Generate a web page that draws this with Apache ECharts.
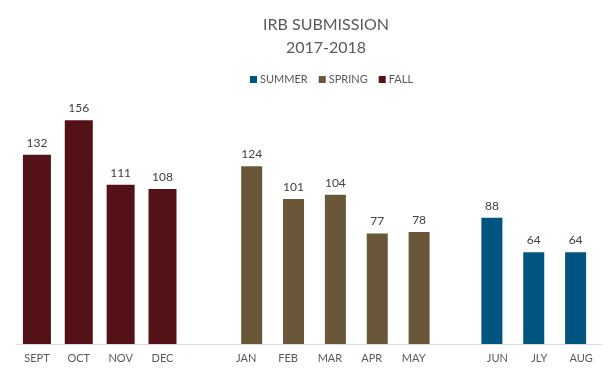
<!DOCTYPE html>
<html>
<head>
<meta charset="utf-8">
<script src="https://cdn.jsdelivr.net/npm/echarts@6/dist/echarts.min.js"></script>
<style>html,body{margin:0;padding:0;background:#fff}#c{width:611px;height:383px}</style>
</head>
<body>
<div id="c"></div>
<script>
var categories = ['SEPT','OCT','NOV','DEC','','JAN','FEB','MAR','APR','MAY','','JUN','JLY','AUG'];
var summerValues = [null,null,null,null,null,null,null,null,null,null,null,88,64,64];
var springValues = [null,null,null,null,null,124,101,104,77,78,null,null,null,null];
var fallValues = [132,156,111,108,null,null,null,null,null,null,null,null,null,null];
var titleLines = ['IRB SUBMISSION', '2017-2018'];

var FONT = 'Lato, "Open Sans", sans-serif';
var chart = echarts.init(document.getElementById('c'), null, {renderer:'canvas'});
var labelCfg = {show:true, position:'top', distance:6, color:'#404040', fontSize:12, fontFamily:FONT};
chart.setOption({
  animation:false,
  graphic:[{type:'text', x:326, y:13, style:{text:titleLines.join('\n'), fill:'#595959', font:'16px ' + FONT, align:'center', lineHeight:23}}],
  legend:{top:69, left:245, icon:'rect', itemWidth:7, itemHeight:7, itemGap:11,
    textStyle:{color:'#595959', fontSize:11, fontFamily:FONT, padding:[0,0,0,-2]},
    data:['SUMMER','SPRING','FALL']},
  grid:{left:16, right:9, bottom:39, top:85.8, containLabel:false},
  xAxis:[
    {type:'category', data:categories, axisLine:{lineStyle:{color:'#d9d9d9'}}, axisTick:{show:false},
     axisLabel:{color:'#595959', fontSize:11, fontFamily:FONT, margin:9, interval:0}},
    {type:'category', data:categories, show:false, position:'bottom'}
  ],
  yAxis:{type:'value', min:0, max:180, show:false, splitLine:{show:false}},
  series:[
    {name:'SUMMER', type:'bar', xAxisIndex:0, data:summerValues, barWidth:21, barGap:'-48%', itemStyle:{color:'#005480'}, label:labelCfg},
    {name:'SPRING', type:'bar', xAxisIndex:0, data:springValues, barWidth:21, barGap:'-48%', itemStyle:{color:'#6A573A'}, label:labelCfg},
    {name:'FALL', type:'bar', xAxisIndex:1, data:fallValues, barWidth:28, itemStyle:{color:'#541218'}, label:labelCfg}
  ]
});
</script>
</body>
</html>
